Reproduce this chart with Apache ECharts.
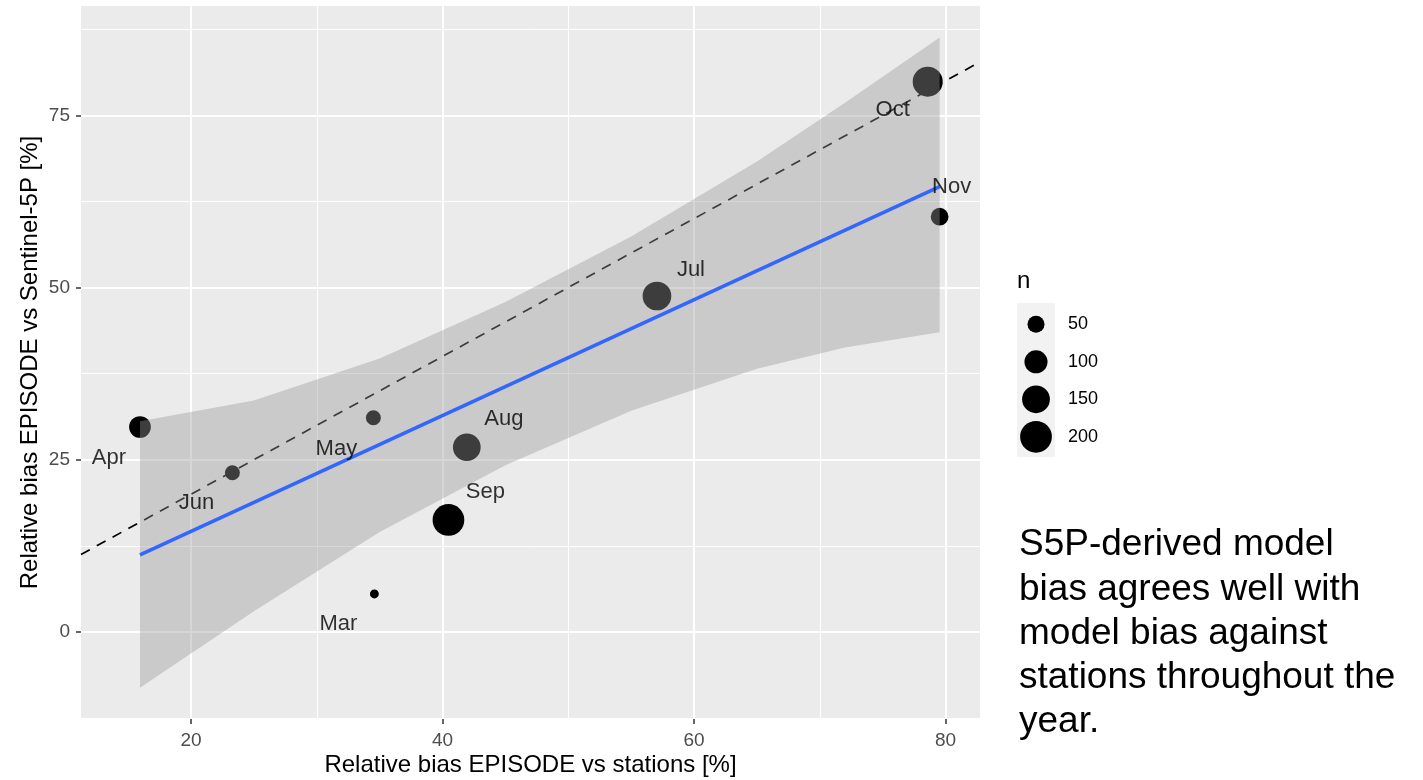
<!DOCTYPE html>
<html>
<head>
<meta charset="utf-8">
<script src="https://cdn.jsdelivr.net/npm/echarts@6/dist/echarts.min.js"></script>
<style>
  html, body { margin: 0; padding: 0; background: #fff; }
  #chart { width: 1423px; height: 780px; }
</style>
</head>
<body>
<div id="chart"></div>
<script>
// monthly bias comparison
const months = ['Mar', 'Apr', 'May', 'Jun', 'Jul', 'Aug', 'Sep', 'Oct', 'Nov'];
const biasStations = [34.58, 15.94, 34.50, 23.29, 57.05, 41.93, 40.47, 78.58, 79.53];
const biasS5P = [5.52, 29.75, 31.10, 23.12, 48.77, 26.81, 16.26, 79.87, 60.28];
const counts = [10, 87, 37, 37, 161, 149, 200, 177, 55];

// linear fit and its confidence band
const fitX = [15.94, 79.53];
const fitY = [11.18, 64.63];
const bandX = [15.94, 25, 35, 45, 55, 65, 72, 79.53];
const bandLower = [-8.1, 3.0, 14.5, 24.2, 32.1, 38.2, 41.3, 43.5];
const bandUpper = [30.6, 33.6, 39.7, 47.9, 57.4, 68.3, 76.8, 86.3];

const xMajor = [20, 40, 60, 80];
const xMinor = [30, 50, 70];
const yMajor = [0, 25, 50, 75];
const yMinor = [-12.5, 12.5, 37.5, 62.5, 87.5];
const legendBreaks = [50, 100, 150, 200];

const X_MIN = 11.25, X_MAX = 82.74;
const Y_MIN = -12.63, Y_MAX = 90.86;

// label nudges (px), like ggrepel placed them
const labelOffsets = {
  Mar: [-36, 30], Apr: [-31, 31], May: [-37, 31], Jun: [-36, 30],
  Jul: [34, -26], Aug: [37, -28], Sep: [37, -28], Oct: [-35, 28], Nov: [12, -30],
};

const FONT = '"Liberation Sans", Arial, sans-serif';
const sizeOf = (n) => 2.3 + 2.08 * Math.sqrt(n);

const points = months.map((m, i) => ({ name: m, value: [biasStations[i], biasS5P[i], counts[i]] }));

const chart = echarts.init(document.getElementById('chart'));

const baseX = {
  type: 'value', min: X_MIN, max: X_MAX, gridIndex: 0,
  axisLine: { show: false, onZero: false },
};
const baseY = {
  type: 'value', min: Y_MIN, max: Y_MAX, gridIndex: 0,
  axisLine: { show: false, onZero: false },
};

const legendGraphics = [
  { type: 'text', left: 1017, top: 269, style: { text: 'n', font: `24px ${FONT}`, fill: '#000' } },
  { type: 'rect', shape: { x: 1017, y: 303, width: 38, height: 154 }, style: { fill: '#F2F2F2' } },
];
legendBreaks.forEach((b, i) => {
  const cy = 324.3 + i * 37.5;
  legendGraphics.push({ type: 'circle', shape: { cx: 1036, cy, r: sizeOf(b) / 2 }, style: { fill: '#000' } });
  legendGraphics.push({
    type: 'text', x: 1068, y: cy,
    style: { text: String(b), font: `18px ${FONT}`, fill: '#000', textVerticalAlign: 'middle' },
  });
});

const note = ['S5P-derived model', 'bias agrees well with', 'model bias against', 'stations throughout the', 'year.'];
note.forEach((line, i) => {
  legendGraphics.push({
    type: 'text', x: 1019, y: 545 + i * 44.3,
    style: { text: line, font: `37px ${FONT}`, fill: '#000', textVerticalAlign: 'middle' },
  });
});

chart.setOption({
  animation: false,
  backgroundColor: '#fff',
  grid: {
    left: 81, right: 443, top: 6, bottom: 61,
    outerBoundsMode: 'none',
    show: true, backgroundColor: '#EBEBEB', borderWidth: 0,
  },
  xAxis: [
    {
      ...baseX,
      name: 'Relative bias EPISODE vs stations [%]',
      nameLocation: 'middle', nameGap: 34, nameMoveOverlap: false,
      nameTextStyle: { fontFamily: FONT, fontSize: 24, color: '#000' },
      axisTick: { customValues: xMajor, length: 5, lineStyle: { color: '#333', width: 1.5 } },
      axisLabel: { customValues: xMajor, color: '#4D4D4D', fontFamily: FONT, fontSize: 19, margin: 12 },
      splitLine: { lineStyle: { color: '#fff', width: 2 } },
      z: 1,
    },
    {
      ...baseX,
      axisTick: { show: false, customValues: xMinor },
      axisLabel: { show: false },
      splitLine: { lineStyle: { color: '#fff', width: 1 } },
      z: 0,
    },
  ],
  yAxis: [
    {
      ...baseY,
      name: 'Relative bias EPISODE vs Sentinel-5P [%]',
      nameLocation: 'middle', nameGap: 39, nameMoveOverlap: false,
      nameTextStyle: { fontFamily: FONT, fontSize: 24, color: '#000' },
      axisTick: { customValues: yMajor, length: 5, lineStyle: { color: '#333', width: 1.5 } },
      axisLabel: { customValues: yMajor, color: '#4D4D4D', fontFamily: FONT, fontSize: 19, margin: 11 },
      splitLine: { lineStyle: { color: '#fff', width: 2 } },
      z: 1,
    },
    {
      ...baseY,
      axisTick: { show: false, customValues: yMinor },
      axisLabel: { show: false },
      splitLine: { lineStyle: { color: '#fff', width: 1 } },
      z: 0,
    },
  ],
  series: [
    {
      // 1:1 reference line
      type: 'line',
      data: [[X_MIN, X_MIN], [X_MAX, X_MAX]],
      symbol: 'none',
      lineStyle: { color: '#000', width: 1.7, type: [10, 8] },
      z: 2,
      silent: true,
    },
    {
      type: 'scatter',
      data: points,
      symbolSize: (v) => sizeOf(v[2]),
      itemStyle: { color: '#000', opacity: 1 },
      z: 3,
    },
    {
      type: 'custom',
      data: bandX.map((x, i) => [x, bandLower[i], bandUpper[i]]),
      renderItem: (params, api) => {
        if (params.dataIndex !== 0) return null;
        const upper = bandX.map((x, i) => api.coord([x, bandUpper[i]]));
        const lower = bandX.map((x, i) => api.coord([x, bandLower[i]])).reverse();
        return {
          type: 'polygon',
          shape: { points: upper.concat(lower) },
          style: { fill: 'rgba(153,153,153,0.4)' },
        };
      },
      z: 4,
      silent: true,
    },
    {
      type: 'line',
      data: fitX.map((x, i) => [x, fitY[i]]),
      symbol: 'none',
      lineStyle: { color: '#3366FF', width: 3.5 },
      z: 5,
    },
    {
      type: 'scatter',
      data: points,
      symbolSize: 1,
      itemStyle: { color: 'rgba(0,0,0,0)' },
      label: {
        show: true,
        position: 'inside',
        formatter: (p) => p.name,
        color: '#000',
        textBorderWidth: 0,
        fontFamily: FONT,
        fontSize: 22,
      },
      labelLayout: (p) => {
        const off = labelOffsets[months[p.dataIndex]];
        return { dx: off[0], dy: off[1] };
      },
      z: 6,
      silent: true,
    },
  ],
  graphic: legendGraphics,
});
</script>
</body>
</html>
